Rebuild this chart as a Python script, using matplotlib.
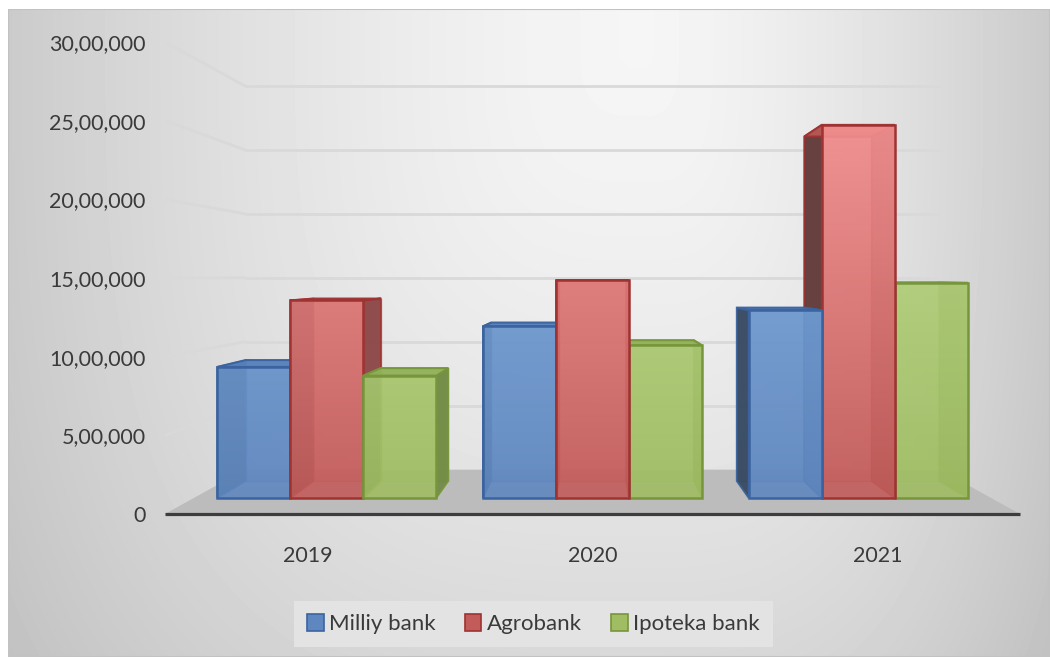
import numpy as np
import matplotlib
matplotlib.use('Agg')
import matplotlib.pyplot as plt
from matplotlib.patches import Polygon, Patch, Rectangle
from matplotlib.colors import to_rgb

plt.rcParams['font.family'] = ['Lato', 'DejaVu Sans']

# data
years = ['2019', '2020', '2021']
banks = ['Milliy bank', 'Agrobank', 'Ipoteka bank']
milliy = [893000, 1170000, 1280000]
agro = [1347000, 1483000, 2543000]
ipoteka = [834000, 1040000, 1466000]
values = [milliy, agro, ipoteka]

yticks = [0, 500000, 1000000, 1500000, 2000000, 2500000, 3000000]
ytick_labels = ['0', '5,00,000', '10,00,000', '15,00,000', '20,00,000', '25,00,000', '30,00,000']

# colours per series
styles = [
    dict(low='#5f87bf', high='#82aee0', edge='#3a63a0', left='#34475e', right='#4f74a8', top='#5a82ba'),
    dict(low='#c25c5a', high='#f59292', edge='#9e3332', left='#5e3838', right='#8a4646', top='#b85856'),
    dict(low='#a0bd63', high='#bedb8c', edge='#77963b', left='#56683a', right='#6f8a42', top='#92b25a'),
]

# fake 3d perspective (front plane = axes coords, vanishing point at x=0, y=YV)
YV = 1.507e6
S_FRONT, S_BACK, S_WALL = 0.9325, 0.861, 0.814
XMAX = 1.5
W = 0.275
GRAD_TOP = 2.6e6


def P(x, y, s):
    return (x * s, YV + (y - YV) * s)


fig = plt.figure(figsize=(10.5, 6.57), dpi=100, facecolor='white')

# background with soft grey gradient
bg = fig.add_axes([8 / 1050, 0, 1042 / 1050, 648 / 657])
gx = np.arange(8, 1050)
gy = np.arange(9, 657)
X, Y = np.meshgrid(gx, gy)
dx = np.where(X < 640, (640 - X) / 640, (X - 640) / 410)
dy = np.clip((Y - 40) / 800, 0, None)
r = (dx ** 3 + dy ** 3) ** (1 / 3)
v = 0.962 - 0.17 * r ** 1.5
bg.imshow(v, cmap='gray', vmin=0, vmax=1, extent=[8, 1050, 657, 9], aspect='auto')
bg.add_patch(Rectangle((8, 9), 1042, 648, fill=False, edgecolor='#c2c2c2', lw=1.5))
bg.set_xlim(8, 1050)
bg.set_ylim(657, 9)
bg.axis('off')

ax = fig.add_axes([165 / 1050, (657 - 514) / 657, 855 / 1050, 472 / 657])
ax.set_facecolor('none')
for sp in ax.spines.values():
    sp.set_visible(False)

# back wall gridlines and left wall lines
for t in yticks:
    a = P(-XMAX, t, 1)
    b = P(-XMAX, t, S_WALL)
    c = P(XMAX, t, S_WALL)
    ax.plot([b[0], c[0]], [b[1], c[1]], color='#d9d9d9', lw=2, zorder=1, solid_capstyle='butt')
    if t > 0:
        ax.plot([a[0], b[0]], [a[1], b[1]], color='#d9d9d9', lw=2, zorder=1)

# floor
floor = [P(-XMAX, 0, 1), P(XMAX, 0, 1), P(XMAX, 0, S_WALL), P(-XMAX, 0, S_WALL)]
ax.add_patch(Polygon(floor, closed=True, facecolor='#bcbcbc', edgecolor='none', zorder=1.5))
ax.plot([-XMAX, XMAX], [0, 0], color='#3d3d3d', lw=2.3, zorder=2, clip_on=False,
        solid_capstyle='butt')


def gradient_face(pts, st, val, z):
    poly = Polygon(pts, closed=True, facecolor='none', edgecolor='none', zorder=z)
    ax.add_patch(poly)
    xs = [p[0] for p in pts]
    ys = [p[1] for p in pts]
    t = np.linspace(0, val, 64) / GRAD_TOP
    lo = np.array(to_rgb(st['low']))
    hi = np.array(to_rgb(st['high']))
    cols = lo + (hi - lo) * t[:, None]
    im = ax.imshow(cols[:, None, :], extent=[min(xs), max(xs), min(ys), max(ys)],
                   origin='lower', aspect='auto', alpha=0.9, zorder=z,
                   interpolation='bilinear')
    im.set_clip_path(poly)


bars = []
for g in range(len(years)):
    for i in range(len(banks)):
        x0 = g - 1 - 1.5 * W + i * W
        bars.append((abs(x0 + W / 2), g, i, x0))
bars.sort(key=lambda b: -b[0])

z = 3
for _, g, i, x0 in bars:
    val = values[i][g]
    x1 = x0 + W
    st = styles[i]
    back = [P(x0, 0, S_BACK), P(x1, 0, S_BACK), P(x1, val, S_BACK), P(x0, val, S_BACK)]
    left = [P(x0, 0, S_FRONT), P(x0, 0, S_BACK), P(x0, val, S_BACK), P(x0, val, S_FRONT)]
    right = [P(x1, 0, S_FRONT), P(x1, 0, S_BACK), P(x1, val, S_BACK), P(x1, val, S_FRONT)]
    top = [P(x0, val, S_FRONT), P(x1, val, S_FRONT), P(x1, val, S_BACK), P(x0, val, S_BACK)]
    front = [P(x0, 0, S_FRONT), P(x1, 0, S_FRONT), P(x1, val, S_FRONT), P(x0, val, S_FRONT)]

    ax.add_patch(Polygon(back, closed=True, facecolor=st['low'], alpha=0.5,
                         edgecolor=st['edge'], lw=1.0, zorder=z))
    ax.add_patch(Polygon(left, closed=True, facecolor=st['left'], alpha=0.92,
                         edgecolor=st['edge'], lw=1.2, zorder=z + 0.1))
    ax.add_patch(Polygon(right, closed=True, facecolor=st['right'], alpha=0.92,
                         edgecolor=st['edge'], lw=1.2, zorder=z + 0.1))
    ax.add_patch(Polygon(top, closed=True, facecolor=st['top'], alpha=0.95,
                         edgecolor=st['edge'], lw=1.5, zorder=z + 0.2))
    gradient_face(front, st, val, z + 0.3)
    ax.add_patch(Polygon(front, closed=True, facecolor='none',
                         edgecolor=st['edge'], lw=1.8, zorder=z + 0.4))
    z += 1

ax.set_xlim(-XMAX, XMAX)
ax.set_ylim(0, 3000000)
ax.set_yticks(yticks, labels=ytick_labels)
ax.set_xticks([-1, 0, 1], labels=years)
ax.tick_params(axis='y', length=0, pad=14, labelsize=15.5, labelcolor='#3a3a3a')
ax.tick_params(axis='x', length=0, pad=23, labelsize=15.5, labelcolor='#3a3a3a')

handles = [Patch(facecolor=st['low'], edgecolor=st['edge'], lw=1.2) for st in styles]
leg = fig.legend(handles, banks, loc='center', bbox_to_anchor=(0.508, 0.05), ncol=3,
                 frameon=True, facecolor='#e3e3e3', edgecolor='none', framealpha=1,
                 fancybox=False, fontsize=16, handlelength=0.75, handleheight=0.75,
                 handletextpad=0.25, columnspacing=1.3, borderpad=0.6)
for txt in leg.get_texts():
    txt.set_color('#3a3a3a')

fig.savefig('out.png', dpi=100, facecolor='white')
